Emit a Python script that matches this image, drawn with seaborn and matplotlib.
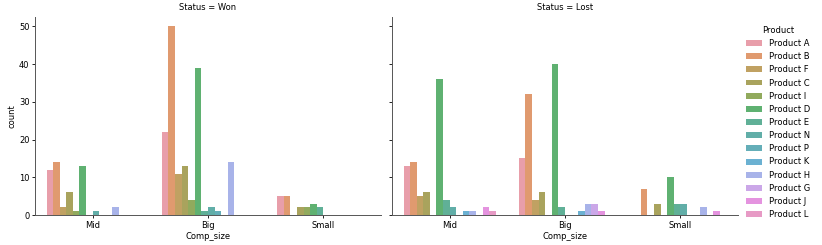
import numpy as np
import pandas as pd
import matplotlib
matplotlib.use("Agg")
import matplotlib.pyplot as plt
import seaborn as sns

# --- Data (counts) ---
PRODUCTS = ["Product A", "Product B", "Product F", "Product C", "Product I", "Product D", "Product E",
            "Product N", "Product P", "Product K", "Product H", "Product G", "Product J", "Product L"]
SIZES = ["Mid", "Big", "Small"]
STATUSES = ["Won", "Lost"]

won_mid = [12, 14, 2, 6, 1, 13, 0, 1, 0, 0, 2, 0, 0, 0]
won_big = [22, 50, 11, 13, 4, 39, 1, 2, 1, 0, 14, 0, 0, 0]
won_small = [5, 5, 0, 2, 2, 3, 2, 0, 0, 0, 0, 0, 0, 0]
lost_mid = [13, 14, 5, 6, 0, 36, 4, 2, 0, 1, 1, 0, 2, 1]
lost_big = [15, 32, 4, 6, 0, 40, 2, 0, 0, 1, 3, 3, 1, 0]
lost_small = [0, 7, 0, 3, 0, 10, 3, 3, 0, 0, 2, 0, 1, 0]

COUNTS = {
    ("Won", "Mid"): won_mid, ("Won", "Big"): won_big, ("Won", "Small"): won_small,
    ("Lost", "Mid"): lost_mid, ("Lost", "Big"): lost_big, ("Lost", "Small"): lost_small,
}

# expand counts into one row per deal so countplot does the counting
rows = []
for (status, size), counts in COUNTS.items():
    for prod, n in zip(PRODUCTS, counts):
        rows += [{"Status": status, "Comp_size": size, "Product": prod}] * n
df = pd.DataFrame(rows)

plt.rcParams.update({
    "font.size": 6,
    "axes.linewidth": 0.7,
    "axes.labelpad": 2,
    "axes.titlepad": 5,
    "xtick.major.size": 2,
    "ytick.major.size": 2,
    "xtick.major.width": 0.6,
    "ytick.major.width": 0.6,
    "xtick.major.pad": 2,
    "ytick.major.pad": 2,
    "axes.edgecolor": "#555555",
})

palette = sns.husl_palette(len(PRODUCTS), l=0.68, s=0.9)

g = sns.catplot(data=df, x="Comp_size", hue="Product", col="Status", kind="count",
                order=SIZES, hue_order=PRODUCTS, col_order=STATUSES, palette=palette,
                saturation=0.7, alpha=0.88, height=2.45, aspect=1.4)

g.figure.set_size_inches(8.22, 2.45)
g.figure.subplots_adjust(left=35 / 822, right=738 / 822, bottom=1 - 215 / 245,
                         top=1 - 17 / 245, wspace=11 / 346)
sns.move_legend(g, "center left", bbox_to_anchor=(738 / 822, 0.5), frameon=False,
                fontsize=6, title_fontsize=6)

g.figure.savefig("out.png", dpi=100)
